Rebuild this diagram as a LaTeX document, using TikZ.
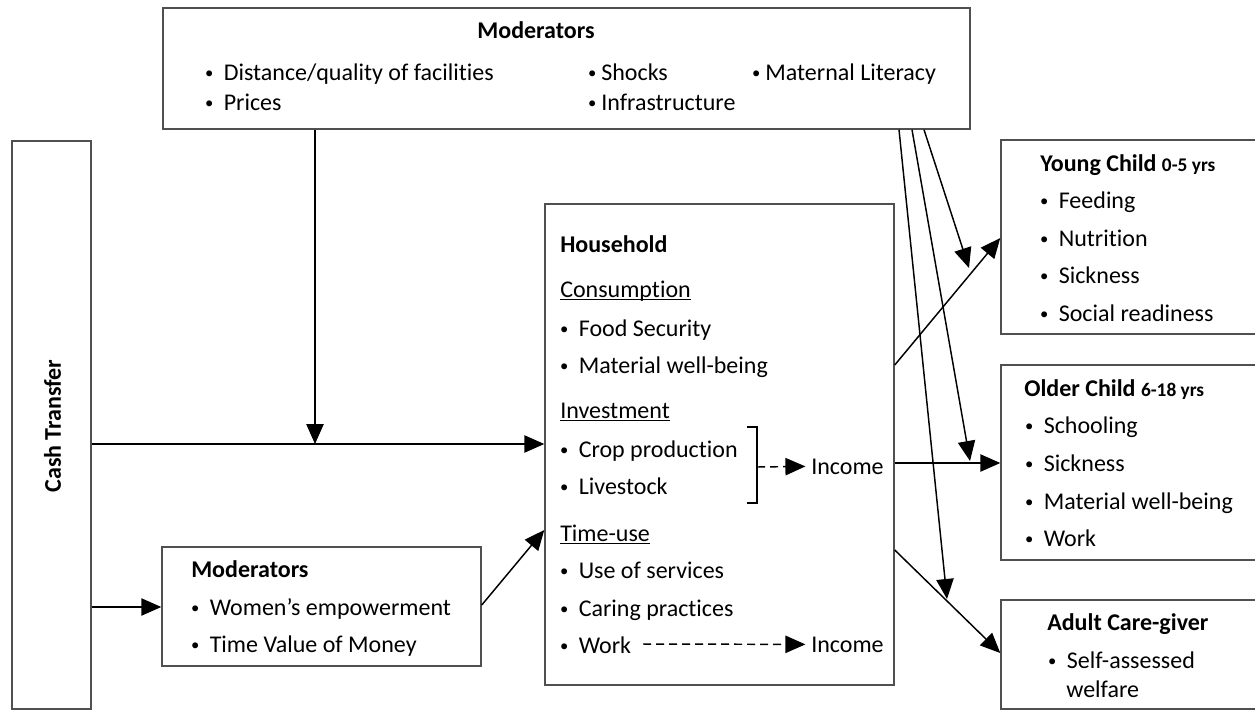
\documentclass[tikz,border=0pt]{standalone}
\usepackage{fontspec}
\setmainfont{Carlito}[Ligatures=NoCommon]
\usetikzlibrary{arrows.meta,fit}
\definecolor{boxgray}{HTML}{505050}
\newcommand\smbul{\raisebox{1.5pt}{\fontsize{12.5}{12}\selectfont •}}
\newcommand\bitem[2][10.9pt]{\makebox[0pt]{\smbul}\hspace*{#1}#2}
\newsavebox\ulbox
\newcommand\ulhd[1]{\sbox\ulbox{#1}\usebox\ulbox\llap{\rule[-2.3pt]{\wd\ulbox}{0.9pt}}}
\begin{document}
\begin{tikzpicture}[x=0.75pt,y=-0.75pt,
  box/.style={draw=boxgray, line width=1.1pt, inner sep=0pt, rectangle},
  txt/.style={anchor=base west, inner sep=0pt, font=\fontsize{18}{21}\selectfont},
  hd/.style={anchor=base west, inner sep=0pt, font=\fontsize{18}{21}\selectfont\bfseries},
  arr/.style={line width=1.1pt, -{Triangle[length=15pt,width=13pt]}},
  darr/.style={arr, dash pattern=on 6pt off 3.75pt},
  ln/.style={line width=1.1pt}]

\useasboundingbox (0,0) rectangle (1255,711);
\clip (0,0) rectangle (1255,711);

% ---------- boxes ----------
\node[box, fit={(163,8) (970,129)}] (topmod) {};
\node[box, fit={(12,141) (91,709)}] (cash) {};
\node[box, fit={(162,547) (481,666)}] (lowmod) {};
\node[box, fit={(545,204) (894,685)}] (hh) {};
\node[box, fit={(1001,140) (1275,334)}] (young) {};
\node[box, fit={(1001,365) (1275,560)}] (older) {};
\node[box, fit={(1001,600) (1275,709)}] (adult) {};

% ---------- top moderators ----------
\node[hd, anchor=base] (tmh) at (536,38) {Moderators};
\node[txt] (tm1) at (209,80) {\bitem{Distance/quality of facilities}};
\node[txt] (tm2) at (209,110) {\bitem{Prices}};
\node[txt] (tm3) at (592,80) {\bitem[6.8pt]{Shocks}};
\node[txt] (tm4) at (592,110) {\bitem[6.8pt]{Infrastructure}};
\node[txt] (tm5) at (756,80) {\bitem[6.8pt]{Maternal Literacy}};

% ---------- cash transfer ----------
\node[hd, anchor=center, rotate=90] (ctl) at (52.5,426) {Cash Transfer};

% ---------- lower moderators ----------
\node[hd] (lmh) at (191,577) {Moderators};
\node[txt] (lm1) at (195,615) {\bitem{Women’s empowerment}};
\node[txt] (lm2) at (195,652) {\bitem{Time Value of Money}};

% ---------- household ----------
\node[hd] (hhh) at (560,252) {Household};
\node[txt] (hc) at (560,297) {\ulhd{Consumption}};
\node[txt] (hc1) at (564,336) {\bitem{Food Security}};
\node[txt] (hc2) at (564,373) {\bitem{Material well-being}};
\node[txt] (hi) at (560,418) {\ulhd{Investment}};
\node[txt] (hi1) at (564,457) {\bitem{Crop production}};
\node[txt] (hi2) at (564,494) {\bitem{Livestock}};
\node[txt] (ht) at (560,541) {\ulhd{Time-use}};
\node[txt] (ht1) at (564,578) {\bitem{Use of services}};
\node[txt] (ht2) at (564,616) {\bitem{Caring practices}};
\node[txt] (ht3) at (564,653) {\bitem{Work}};
\node[txt] (inc1) at (811,474) {Income};
\node[txt] (inc2) at (811,652) {Income};

% bracket
\draw[ln] (747,427) -- (757,427) -- (757,503) -- (747,503);
\coordinate (brk) at (757,467);
\draw[darr] (brk) -- ([xshift=-4.2pt]inc1.west);
\coordinate (wk) at (643,644);
\draw[darr] (wk) -- ([xshift=-4.2pt]inc2.west);

% ---------- young child ----------
\node[hd] (ych) at (1040,171) {Young Child \fontsize{14.5}{16}\selectfont 0-5 yrs};
\node[txt] (yc1) at (1044,208) {\bitem{Feeding}};
\node[txt] (yc2) at (1044,246) {\bitem{Nutrition}};
\node[txt] (yc3) at (1044,283) {\bitem{Sickness}};
\node[txt] (yc4) at (1044,321) {\bitem{Social readiness}};

% ---------- older child ----------
\node[hd] (och) at (1024,396) {Older Child \fontsize{14.5}{16}\selectfont 6-18 yrs};
\node[txt] (oc1) at (1029,433) {\bitem{Schooling}};
\node[txt] (oc2) at (1029,471) {\bitem{Sickness}};
\node[txt] (oc3) at (1029,509) {\bitem{Material well-being}};
\node[txt] (oc4) at (1029,546) {\bitem{Work}};

% ---------- adult ----------
\node[hd] (ach) at (1047,630) {Adult Care-giver};
\node[txt] (ac1) at (1052,668) {\bitem{Self-assessed}};
\node[txt] (ac2) at (1066,697) {welfare};

% ---------- connectors ----------
\coordinate (j1) at (315,444);
\draw[arr] (cash.east |- j1) -- (hh.west |- j1);
\draw[arr] (topmod.south -| j1) -- (j1);
\coordinate (j2) at (0,607);
\draw[arr] (cash.east |- j2) -- (lowmod.west |- j2);
\coordinate (j3a) at (0,605);
\coordinate (j3b) at (0,530);
\draw[arr] (lowmod.east |- j3a) -- (hh.west |- j3b);

\coordinate (h1) at (0,365);
\coordinate (y1) at (0,238);
\draw[arr] (hh.east |- h1) -- (young.west |- y1);
\coordinate (h2) at (0,463);
\draw[arr] (hh.east |- h2) -- (older.west |- h2);
\coordinate (h3) at (0,550);
\coordinate (a3) at (0,653);
\draw[arr] (hh.east |- h3) -- (adult.west |- a3);

\coordinate (s1) at (924,0);
\coordinate (s2) at (912,0);
\coordinate (s3) at (899,0);
\coordinate (m1) at (969,268);
\coordinate (m2) at (970,461);
\coordinate (m3) at (947,599);
\draw[arr] (topmod.south -| s1) -- (m1);
\draw[arr] (topmod.south -| s2) -- (m2);
\draw[arr] (topmod.south -| s3) -- (m3);
\end{tikzpicture}
\end{document}
